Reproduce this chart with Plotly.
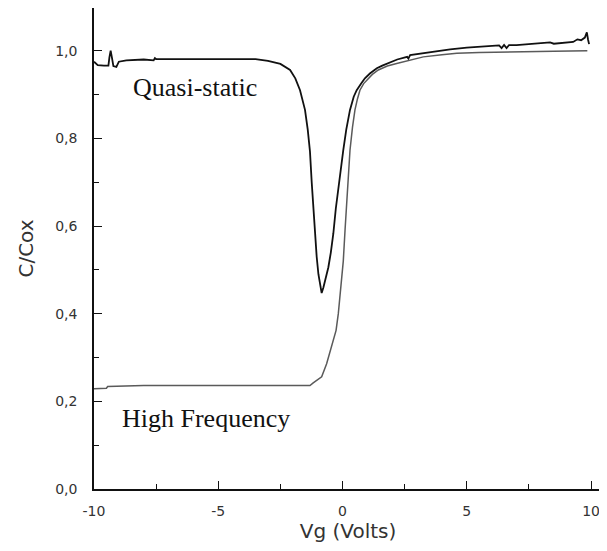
import plotly.graph_objects as go

# Quasi-static C-V curve (black)
qs_vg = [-10.0, -9.85, -9.6, -9.42, -9.38, -9.33, -9.28, -9.22, -9.1, -9.0, -8.7, -8.0,
         -7.6, -7.55, -7.5, -7.0, -6.0, -5.0, -4.0, -3.5, -3.0, -2.5, -2.11, -1.9, -1.71,
         -1.51, -1.4, -1.31, -1.24, -1.17, -1.11, -1.04, -0.97, -0.9, -0.84, -0.77, -0.67,
         -0.57, -0.47, -0.37, -0.27, -0.17, -0.07, 0.03, 0.15, 0.3, 0.45, 0.57, 0.75, 0.9,
         1.1, 1.38, 1.6, 1.91, 2.2, 2.6, 2.65, 2.72, 3.5, 4.33, 5.0, 5.8, 6.3, 6.4, 6.5,
         6.6, 6.7, 7.0, 7.6, 8.0, 8.35, 8.5, 9.0, 9.28, 9.45, 9.6, 9.75, 9.83, 9.88, 9.92]
qs_c = [0.975, 0.967, 0.966, 0.966, 0.985, 1.0, 0.985, 0.965, 0.963, 0.975, 0.978, 0.98,
        0.978, 0.983, 0.981, 0.981, 0.982, 0.982, 0.982, 0.981, 0.977, 0.97, 0.956, 0.937, 0.91,
        0.865, 0.82, 0.77, 0.7, 0.64, 0.583, 0.53, 0.49, 0.46, 0.447, 0.46, 0.485,
        0.506, 0.54, 0.583, 0.64, 0.689, 0.735, 0.773, 0.82, 0.865, 0.895, 0.91, 0.925, 0.937,
        0.948, 0.96, 0.966, 0.973, 0.98, 0.986, 0.982, 0.99, 0.997, 1.003, 1.007, 1.01, 1.012, 1.006, 1.013,
        1.006, 1.013, 1.013, 1.015, 1.017, 1.019, 1.016, 1.019, 1.02, 1.026, 1.024, 1.03, 1.042, 1.025, 1.015]

# High-frequency C-V curve (grey)
hf_vg = [-10.0, -9.5, -9.45, -8.0, -5.0, -2.0, -1.31, -1.18, -1.0, -0.84, -0.64, -0.44,
         -0.26, -0.17, -0.1, -0.03, 0.03, 0.1, 0.17, 0.23, 0.3, 0.4, 0.5, 0.6, 0.7, 0.85,
         0.97, 1.2, 1.44, 1.8, 2.18, 2.7, 3.25, 4.0, 4.6, 5.5, 7.0, 8.5, 9.85]
hf_c = [0.229, 0.23, 0.234, 0.236, 0.236, 0.236, 0.236, 0.242, 0.249, 0.256, 0.286, 0.324,
        0.362, 0.4, 0.438, 0.476, 0.52, 0.59, 0.659, 0.72, 0.773, 0.825, 0.865, 0.89, 0.91, 0.925,
        0.933, 0.946, 0.956, 0.965, 0.971, 0.979, 0.986, 0.991, 0.994, 0.996, 0.998, 0.999, 1.0]

x_tickvals = [-10, -5, 0, 5, 10]
x_ticktext = ["-10", "-5", "0", "5", "10"]
y_tickvals = [0.0, 0.2, 0.4, 0.6, 0.8, 1.0]
y_ticktext = ["0,0", "0,2", "0,4", "0,6", "0,8", "1,0"]

fig = go.Figure()
fig.add_trace(go.Scatter(x=hf_vg, y=hf_c, mode="lines", name="High Frequency",
                         line=dict(color="#5a5a5a", width=1.5)))
fig.add_trace(go.Scatter(x=qs_vg, y=qs_c, mode="lines", name="Quasi-static",
                         line=dict(color="#111111", width=1.8)))

fig.add_annotation(x=-5.94, y=0.915, xref="x", yref="y", text="Quasi-static", showarrow=False,
                   font=dict(family="Liberation Serif", size=26, color="#111"),
                   xanchor="center", yanchor="middle")
fig.add_annotation(x=-5.49, y=0.161, xref="x", yref="y", text="High Frequency", showarrow=False,
                   font=dict(family="Liberation Serif", size=26, color="#111"),
                   xanchor="center", yanchor="middle")

# the page body adds an 8px offset, so the figure is sized 8px smaller
fig.update_layout(
    width=599, height=543,
    margin=dict(l=86, r=5, t=0, b=62, autoexpand=False),
    paper_bgcolor="white", plot_bgcolor="white",
    showlegend=False,
)

fig.update_xaxes(
    range=[-10, 10.44], showgrid=False, zeroline=False, automargin=False,
    showline=True, linecolor="#111", linewidth=1.6,
    ticks="inside", ticklen=8, tickwidth=1.3, tickcolor="#111",
    tickvals=x_tickvals, ticktext=x_ticktext,
    minor=dict(dtick=2.5, tick0=-10, ticks="inside", ticklen=5, tickwidth=1.2, tickcolor="#111"),
    tickfont=dict(family="DejaVu Sans", size=14, color="#333"),
    ticklabelstandoff=8,
    title=dict(text="Vg (Volts)", font=dict(family="DejaVu Sans", size=20, color="#333"), standoff=3),
)
fig.update_yaxes(
    range=[0, 1.0975], showgrid=False, zeroline=False, automargin=False,
    showline=True, linecolor="#111", linewidth=1.6,
    ticks="inside", ticklen=8, tickwidth=1.3, tickcolor="#111",
    tickvals=y_tickvals, ticktext=y_ticktext,
    minor=dict(dtick=0.1, tick0=0, ticks="inside", ticklen=5, tickwidth=1.2, tickcolor="#111"),
    tickfont=dict(family="DejaVu Sans", size=14, color="#333"),
    ticklabelstandoff=12,
    title=dict(text="C/Cox", font=dict(family="DejaVu Sans", size=20, color="#333"), standoff=16),
)

fig.write_html("out.html")
